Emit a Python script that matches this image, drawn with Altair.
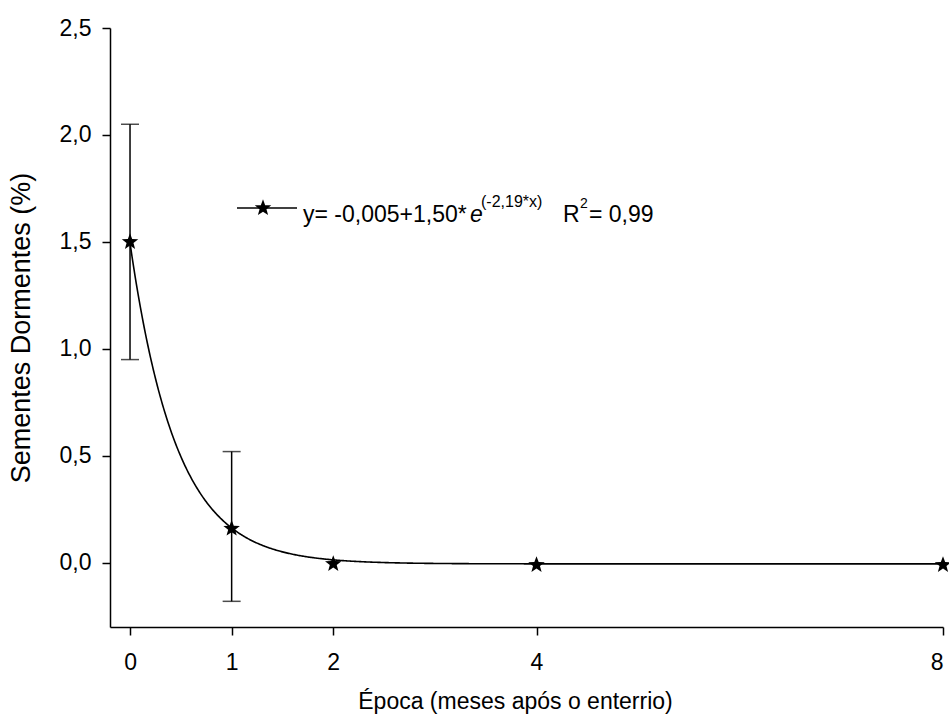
import altair as alt
import pandas as pd

# Observed means
epoca = [0, 1, 2, 4, 8]
media = [1.50, 0.16, -0.005, -0.01, -0.01]

# Error bars (only where shown)
err_x = [0, 1]
err_lo = [0.95, -0.18]
err_hi = [2.05, 0.52]

# Fitted model parameters from the legend: y = c + a*exp(b*x)
fit_c = -0.005
fit_a = 1.50
fit_b = -2.19

x_ticks = [0, 1, 2, 4, 8]
y_ticks = [0, 0.5, 1.0, 1.5, 2.0, 2.5]

FONT = "Liberation Sans"
STAR = ("M0,-1 L0.25,-0.33 L0.951,-0.309 L0.40,0.13 L0.588,0.809 L0,0.42 "
        "L-0.588,0.809 L-0.40,0.13 L-0.951,-0.309 L-0.25,-0.33 Z")

pts = pd.DataFrame({"x": epoca, "y": media})
errs = pd.DataFrame({"x": err_x, "lo": err_lo, "hi": err_hi})

xscale = alt.Scale(domain=[-0.197, 8], nice=False, zero=False)
yscale = alt.Scale(domain=[-0.3, 2.5], nice=False, zero=False)

xaxis = alt.Axis(values=x_ticks, format="d", title="Época (meses após o enterrio)",
                 titlePadding=16, labelPadding=16, orient="bottom",
                 titleX=405, titleAlign="center")
yaxis = alt.Axis(values=y_ticks, format=".1f", labelExpr="replace(datum.label, '.', ',')",
                 title="Sementes Dormentes (%)", titlePadding=24, labelPadding=11,
                 titleFontSize=27, orient="left")

curve = alt.Chart(alt.sequence(0, 8.001, 0.01, as_="x")).transform_calculate(
    y=f"{fit_c} + {fit_a}*exp({fit_b}*datum.x)"
).mark_line(color="black", strokeWidth=1.6).encode(
    x=alt.X("x:Q", scale=xscale, axis=xaxis),
    y=alt.Y("y:Q", scale=yscale, axis=yaxis),
)

rules = alt.Chart(errs).mark_rule(color="black", strokeWidth=1.5).encode(
    x=alt.X("x:Q", scale=xscale),
    y=alt.Y("lo:Q", scale=yscale),
    y2="hi:Q",
)
cap_lo = alt.Chart(errs).mark_tick(orient="horizontal", size=18, thickness=1.5, color="black").encode(
    x=alt.X("x:Q", scale=xscale),
    y=alt.Y("lo:Q", scale=yscale),
)
cap_hi = alt.Chart(errs).mark_tick(orient="horizontal", size=18, thickness=1.5, color="black").encode(
    x=alt.X("x:Q", scale=xscale),
    y=alt.Y("hi:Q", scale=yscale),
)

points = alt.Chart(pts).mark_point(shape=STAR, filled=True, color="black", size=300, opacity=1).encode(
    x=alt.X("x:Q", scale=xscale),
    y=alt.Y("y:Q", scale=yscale),
)

one = pd.DataFrame({"d": [0]})
leg_line = alt.Chart(one).mark_rule(color="black", strokeWidth=1.5).encode(
    x=alt.value(127), x2=alt.value(187), y=alt.value(180)
)
leg_star = alt.Chart(one).mark_point(shape=STAR, filled=True, color="black", size=300, opacity=1).encode(
    x=alt.value(153), y=alt.value(180)
)

def txt(s, x, y, size=23, style="normal"):
    return alt.Chart(one).mark_text(
        text=s, align="left", baseline="alphabetic", font=FONT, fontSize=size,
        fontStyle=style, color="black"
    ).encode(x=alt.value(x), y=alt.value(y))

leg_texts = [
    txt("y= -0,005+1,50*", 193, 194),
    txt("e", 360, 194, style="italic"),
    txt("(-2,19*x)", 371, 179, size=16),
    txt("R", 453, 194),
    txt("2", 470, 180, size=14),
    txt("= 0,99", 479, 194),
]

chart = alt.layer(curve, rules, cap_lo, cap_hi, points, leg_line, leg_star, *leg_texts).properties(
    width=833, height=599,
    autosize=alt.AutoSizeParams(type="none"),
    padding={"left": 110, "top": 28, "right": 6, "bottom": 100},
).configure_view(stroke=None).configure_axis(
    grid=False, domainColor="black", domainWidth=1.5, tickColor="black", tickWidth=1.5,
    tickSize=8, labelColor="black", titleColor="black", labelFont=FONT, titleFont=FONT,
    labelFontSize=23, titleFontSize=23, titleFontWeight="normal",
)

chart.save("out.html", embed_options={"renderer": "svg", "actions": False})
